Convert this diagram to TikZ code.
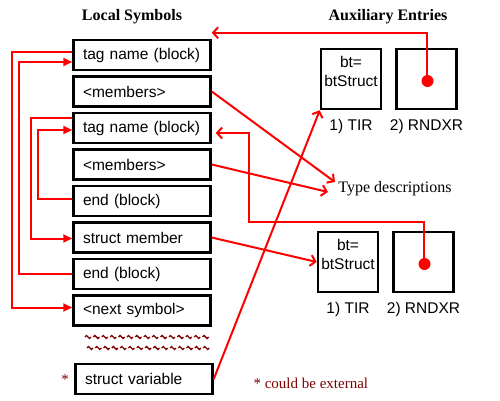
\documentclass[tikz,border=0pt]{standalone}
\usepackage{fontspec}
\setmainfont{Liberation Serif}
\setsansfont{Liberation Sans}
\usetikzlibrary{positioning,arrows.meta}
\definecolor{colorlink}{RGB}{255,0,0}
\definecolor{colornote}{RGB}{128,0,0}

\begin{document}
\begin{tikzpicture}[
    x=1pt, y=-1pt,
    node distance = 4pt,
    font={\sffamily\fontsize{15.5}{19}\selectfont},
    symbol/.style={draw,line width=2.5pt,minimum width=137pt,minimum height=30pt,text width=118pt,align=left,inner sep=0pt},
    auxbox/.style={draw,line width=2.5pt,minimum size=60pt,inner sep=0pt,align=center,text depth=16pt},
    title/.style={font={\rmfamily\bfseries\fontsize{16}{19}\selectfont}},
    note/.style={text=colornote,font={\rmfamily\fontsize{15}{18}\selectfont}},
    wave/.style={draw=colornote,line width=1.3pt},
    dot/.style={circle,fill=colorlink,minimum size=12pt,inner sep=0pt},
    link/.style={draw=colorlink,line width=2pt,-{Triangle[length=9pt,width=8pt]}},
    pointer/.style={draw=colorlink,line width=2pt,-{Straight Barb[length=5pt,width=11pt]}},
]
    \useasboundingbox (0,0) rectangle (500,400);

    % Local symbols
    \node[title] (local) at (132,17) {Local Symbols};
    \node[symbol] (tag1) at (142,55) {tag name (block)};
    \node[symbol, below=of tag1] (mem1) {<members>};
    \node[symbol, below=of mem1] (tag2) {tag name (block)};
    \node[symbol, below=of tag2] (mem2) {<members>};
    \node[symbol, below=of mem2] (end1) {end (block)};
    \node[symbol, below=of end1] (member) {struct member};
    \node[symbol, below=of member] (end2) {end (block)};
    \node[symbol, below=of end2] (next) {<next symbol>};
    \node[symbol] (var) at (144,379) {struct variable};
    \node[note] (star) at (65,380) {*};

    % Elided symbols
    \foreach \i in {0,...,14} {
        \draw[wave] (85+8.4*\i,337) sin ++(1.5,-1.5) cos ++(1.5,1.5) sin ++(1.5,1.5) cos ++(1.5,-1.5);
        \draw[wave] (87+8.3*\i,348) sin ++(1.5,-1.5) cos ++(1.5,1.5) sin ++(1.5,1.5) cos ++(1.5,-1.5);
    }

    % Auxiliary entries
    \node[title] (aux) at (388,17) {Auxiliary Entries};
    \node[auxbox] (tir1) at (351,79) {bt=\\btStruct};
    \node[auxbox, right=13pt of tir1] (rndxr1) {};
    \node[below=5pt of tir1] (tirlab1) {1) TIR};
    \node[below=5pt of rndxr1] (rndxrlab1) {2) RNDXR};

    \node[font={\rmfamily\fontsize{16}{19}\selectfont}] (types) at (395,189) {Type descriptions};

    \node[auxbox] (tir2) at (348,262) {bt=\\btStruct};
    \node[auxbox, right=13pt of tir2] (rndxr2) {};
    \node[below=5pt of tir2] (tirlab2) {1) TIR};
    \node[below=5pt of rndxr2] (rndxrlab2) {2) RNDXR};

    \node[note, anchor=west] (external) at (250,383) {* could be external};

    % Scope links
    \draw[link] ([yshift=3pt]tag1.west) -- ++(-60,0) |- ([yshift=3pt]next.west);
    \draw[link] (end2.west) -- ++(-53,0) |- ([yshift=-7pt]tag1.west);
    \draw[link] ([yshift=10pt]tag2.west) -- ++(-41,0) |- ([yshift=-1pt]member.west);
    \draw[link] ([yshift=2pt]end1.west) -- ++(-34,0) |- ([yshift=-2pt]tag2.west);

    % Pointers
    \draw[pointer] (mem1.east) -- ([yshift=7pt]types.west);
    \draw[pointer] (mem2.east) -- ([xshift=-7pt,yshift=-3pt]types.west);
    \draw[pointer] (member.east) -- (tir2.west);
    \draw[pointer] (var.east) -- (tir1.south west);
    \draw[pointer] (rndxr1.center) |- ([yshift=6pt]tag1.north east);
    \coordinate (bend) at (249,222);
    \draw[pointer] (rndxr2.center) |- (bend) |- ([xshift=4pt,yshift=-5pt]tag2.east);
    \node[dot] (dot1) at ([xshift=1pt,yshift=-2pt]rndxr1.center) {};
    \node[dot] (dot2) at ([xshift=1pt,yshift=-2pt]rndxr2.center) {};

\end{tikzpicture}
\end{document}
